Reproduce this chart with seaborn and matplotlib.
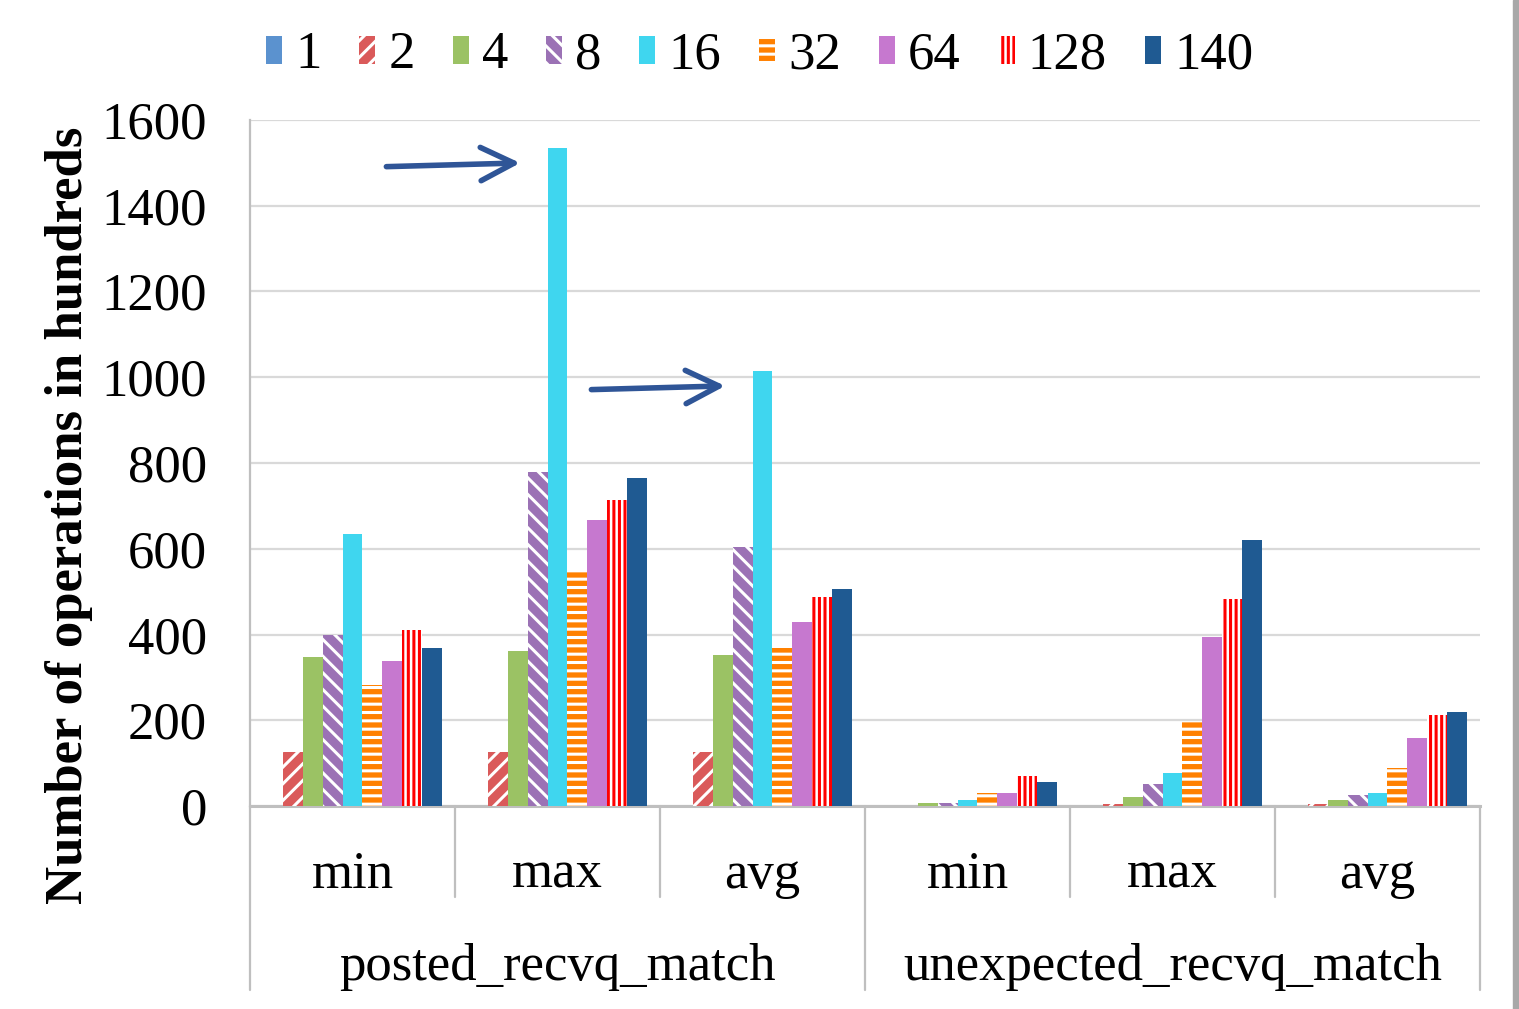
import numpy as np
import pandas as pd
import matplotlib
matplotlib.use("Agg")
import matplotlib.pyplot as plt
import matplotlib.transforms as mtransforms
from matplotlib.patches import Patch, Rectangle
import seaborn as sns

# ---------------- data (number of operations, in hundreds) ----------------
groups = ["posted_recvq_match", "unexpected_recvq_match"]
stats = ["min", "max", "avg"]
threads = ["1", "2", "4", "8", "16", "32", "64", "128", "140"]

# order: posted(min, max, avg), unexpected(min, max, avg)
vals_1 = [0, 0, 0, 0, 0, 0]
vals_2 = [126, 126, 126, 0, 4, 4]
vals_4 = [348, 362, 352, 7, 20, 13]
vals_8 = [399, 780, 605, 6, 51, 25]
vals_16 = [634, 1535, 1015, 13, 76, 31]
vals_32 = [282, 550, 368, 31, 195, 89]
vals_64 = [338, 667, 430, 30, 395, 158]
vals_128 = [410, 714, 487, 70, 482, 212]
vals_140 = [368, 765, 506, 56, 620, 220]

series = [vals_1, vals_2, vals_4, vals_8, vals_16, vals_32, vals_64, vals_128, vals_140]

colors = ["#5B92CF", "#DA5A5A", "#9BC264", "#9B72B5", "#3FD6EF",
          "#FF8000", "#C678CF", "#FF0000", "#1F5A92"]
faces = ["#5B92CF", "#DA5A5A", "#9BC264", "#9B72B5", "#3FD6EF",
         "#FF8000", "#C678CF", "white", "#1F5A92"]
hatches = [None, "//", None, "\\\\", None, "--", None, "|||", None]
hatch_colors = ["#5B92CF", "white", "#9BC264", "white", "#3FD6EF",
                "white", "#C678CF", "#FF0000", "#1F5A92"]

# ---------------- long-form table ----------------
cat_keys = [f"{g}|{s}" for g in groups for s in stats]
rows = []
for t, vals in zip(threads, series):
    for k, v in zip(cat_keys, vals):
        rows.append({"cat": k, "threads": t, "value": v})
df = pd.DataFrame(rows)

sns.set_style("white")
plt.rcParams["font.family"] = ["Liberation Serif", "DejaVu Serif"]
plt.rcParams["hatch.linewidth"] = 2.2
plt.rcParams["text.color"] = "black"
plt.rcParams["ytick.labelcolor"] = "black"

fig = plt.figure(figsize=(15.19, 10.09), dpi=100)
ax = fig.add_axes([250 / 1519, 1 - 806 / 1009, 1230 / 1519, 686 / 1009])

sns.barplot(data=df, x="cat", y="value", hue="threads", order=cat_keys,
            hue_order=threads, palette=dict(zip(threads, colors)),
            width=0.87, saturation=1, legend=False, ax=ax, zorder=3)

for cont, fc, h, hc in zip(ax.containers, faces, hatches, hatch_colors):
    for bar in cont:
        bar.set_facecolor(fc)
        bar.set_linewidth(0)
        bar.set_edgecolor(hc)
        if h:
            bar.set_hatch(h)

ax.set_xlim(-0.5, len(cat_keys) - 0.5)
ax.set_ylim(0, 1600)
ax.set_yticks(np.arange(0, 1601, 200))
ax.yaxis.grid(True, color="#D9D9D9", lw=1.6, zorder=0)
ax.set_axisbelow(True)
ax.tick_params(axis="y", labelsize=38, length=9, width=1.5, color="#BFBFBF",
               direction="out", pad=22, labelcolor="black")
ax.tick_params(axis="x", length=0, labelbottom=False)
ax.set_xlabel("")
ax.set_ylabel("")
for s in ["top", "right"]:
    ax.spines[s].set_visible(False)
ax.spines["left"].set_color("#BFBFBF")
ax.spines["left"].set_linewidth(1.6)
ax.spines["bottom"].set_color("#BFBFBF")
ax.spines["bottom"].set_linewidth(2.2)

# ---------------- multi-level category axis ----------------
trans = mtransforms.blended_transform_factory(ax.transData, ax.transAxes)
for i, k in enumerate(cat_keys):
    ax.text(i, -0.1195, k.split("|")[1], transform=trans, ha="center",
            va="baseline", fontsize=38, color="black")
for gi, g in enumerate(groups):
    ax.text(gi * 3 + 1, -0.2536, g, transform=trans, ha="center",
            va="baseline", fontsize=38, color="black")
for b in range(len(cat_keys) + 1):
    low = -0.268 if b % 3 == 0 else -0.1327
    ax.plot([b - 0.5, b - 0.5], [0, low], transform=trans, clip_on=False,
            color="#BFBFBF", lw=1.6)

# y label
fig.text(69 / 1519, 1 - 515 / 1009, "Number of operations in hundreds",
         rotation=90, ha="center", va="center", fontsize=38,
         fontweight="bold", color="black")

# ---------------- arrows pointing at the 16-thread peaks ----------------
c16 = ax.containers[threads.index("16")]
for idx in (1, 2):
    bar = c16[idx]
    end = (bar.get_x() - 0.12, bar.get_height() - 35)
    start = (end[0] - 0.68, end[1] - 9)
    ax.annotate("", xy=end, xytext=start,
                arrowprops=dict(arrowstyle="->", color="#2F5597", lw=4,
                                mutation_scale=60), zorder=5)

# ---------------- legend ----------------
handles = [Patch(facecolor=fc, edgecolor=hc, hatch=h, linewidth=0)
           for fc, hc, h in zip(faces, hatch_colors, hatches)]
fig.legend(handles, threads, loc="center", bbox_to_anchor=(0.5, 0.945),
           ncol=9, frameon=False, fontsize=38, handlelength=0.3,
           handleheight=0.45, handletextpad=0.25, columnspacing=0.72,
           borderaxespad=0)

# screenshot shadow at right edge
fig.patches.append(Rectangle((1513 / 1519, 0), 6 / 1519, 1,
                             transform=fig.transFigure, color="#A8A8A8",
                             zorder=0))

fig.savefig("out.png", dpi=100)
